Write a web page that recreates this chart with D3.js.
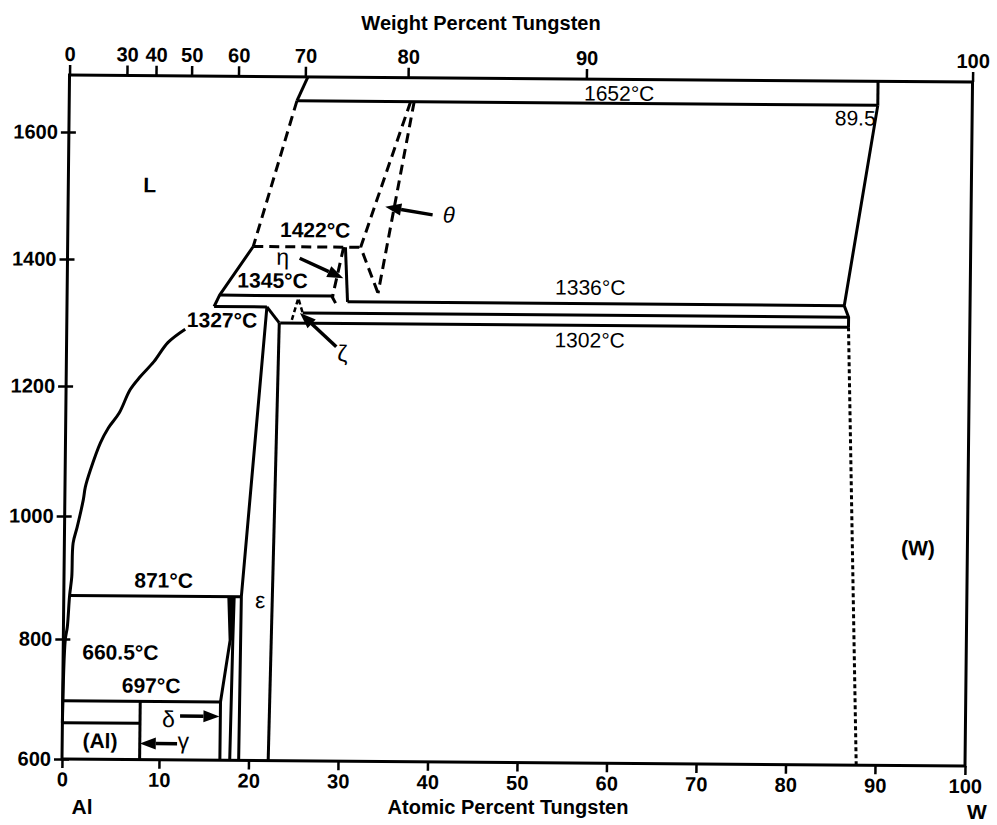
<!DOCTYPE html>
<html><head><meta charset="utf-8">
<script src="https://cdn.jsdelivr.net/npm/d3@7"></script>
<style>
body{margin:0;background:#fff;}
svg text{font-family:"Liberation Sans",Arial,Helvetica,sans-serif;fill:#000;}
</style></head><body>
<svg id="chart" width="997" height="825"></svg>
<script>
// ---------------- data (atomic % W, temperature °C) ----------------
const tempTicks = [600, 800, 1000, 1200, 1400, 1600];
const atTicks = [0, 10, 20, 30, 40, 50, 60, 70, 80, 90, 100];
const wtTicks = [0, 30, 40, 50, 60, 70, 80, 90, 100];

// solid phase boundaries
const liquidusHigh = [[25.8, 1690], [24.6, 1652]];
const iso1652 = [[24.6, 1652], [89.5, 1652]];
const wLiquidus = [[89.5, 1652], [89.5, 1690]];
const wSolidus = [[89.5, 1652], [86.0, 1336], [86.5, 1318], [86.5, 1302]];
const iso1336 = [[30.5, 1336], [86.0, 1336]];
const iso1318 = [[25.5, 1318], [86.5, 1318]];
const iso1302 = [[23.0, 1302], [86.5, 1302]];
const etaRight = [[30.2, 1422], [30.5, 1336]];
const liquidusMid = [[19.9, 1422], [16.2, 1345], [15.6, 1327]];
const iso1345 = [[16.2, 1345], [29.0, 1345]];
const iso1327 = [[15.6, 1327], [21.5, 1327]];
const epsLeft = [[21.5, 1327], [19.0, 871], [18.9, 600]];
const epsTop = [[21.5, 1327], [22.9, 1302]];
const epsRight = [[22.9, 1302], [22.2, 600]];
const liquidusLow = [[12.4, 1291], [10.5, 1270], [9.0, 1239], [7.6, 1215], [6.6, 1195], [5.5, 1159],
  [4.4, 1136], [3.6, 1113], [2.6, 1071], [2.1, 1045], [1.9, 1025], [1.3, 982], [0.9, 956],
  [0.8, 901], [0.6, 871], [0.4, 820], [0.2, 798], [0.0, 660.5]];
const iso871 = [[0.6, 871], [19.0, 871]];
const deltaLeft = [[17.6, 871], [17.8, 800], [16.8, 697], [16.8, 600]];
const deltaRight = [[18.2, 871], [18.1, 800], [17.9, 600]];
const iso697 = [[0, 697], [16.8, 697]];
const iso660 = [[0, 660.5], [8.0, 660.5]];
const gammaLine = [[8.0, 697], [8.0, 600]];

// dashed (uncertain) boundaries
const liquidusDashed = [[24.6, 1652], [19.9, 1422]];
const iso1422 = [[19.9, 1422], [31.9, 1422]];
const etaLeft = [[30.0, 1422], [28.8, 1343], [29.4, 1328]];
const thetaLeft = [[37.3, 1652], [31.9, 1422], [33.9, 1350]];
const thetaRight = [[37.7, 1652], [33.9, 1350]];
const zetaCaret = [[24.3, 1307], [25.0, 1341], [25.5, 1318]];

// dotted (W) solvus
const wSolvus = [[86.5, 1302], [87.9, 600]];

// labels
const boldLabels = [
  ["L", 8.4, 1518], ["1422°C", 26.8, 1449], ["1345°C", 22.1, 1369], ["1327°C", 16.5, 1306],
  ["871°C", 10.3, 897], ["660.5°C", 5.9, 779], ["697°C", 9.1, 724], ["(Al)", 3.9, 631],
  ["(W)", 94.5, 959]
];
const plainLabels = [
  ["1652°C", 60.6, 1668], ["89.5", 87.0, 1632], ["1336°C", 57.6, 1362], ["1302°C", 57.6, 1279]
];
const greekLabels = [
  ["η", 23.2, 1406], ["ζ", 30.0, 1255], ["ε", 21.1, 866], ["δ", 11.0, 668], ["γ", 12.7, 632]
];
const italicLabels = [["θ", 41.7, 1474]];
// arrows: [tail at%, tail °C, tip at%, tip °C]
const arrows = [
  [39.9, 1474, 34.6, 1486], [25.1, 1404, 30.0, 1373], [29.3, 1265, 25.2, 1318],
  [12.0, 627, 8.0, 627], [12.3, 673, 16.7, 673]
];

// -------------- helpers --------------
const wtToAt = w => { const a = w / 183.84, b = (100 - w) / 26.98; return 100 * a / (a + b); };

// -------------- scales --------------
const x = d3.scaleLinear().domain([0, 10, 90, 100]).range([62, 159, 875, 965]);
const y = d3.scaleLinear().domain([600, 800, 1000, 1200, 1400, 1600, 1690])
  .range([759, 639, 516, 386, 259, 132, 75]);
const xw = d3.scaleLinear().domain(wtTicks).range(wtTicks.map(w => x(wtToAt(w))));

const svg = d3.select("#chart");
const kx = 0.011, ky = 0.0078;
const g = svg.append("g")
  .attr("transform", `matrix(1,${ky},${-kx},1,${kx * 759},${-ky * 62})`);

const line = d3.line().x(d => x(d[0])).y(d => y(d[1]));

// frame
g.append("rect").attr("x", x(0)).attr("y", y(1690))
  .attr("width", x(100) - x(0)).attr("height", y(600) - y(1690))
  .attr("fill", "none").attr("stroke", "#000").attr("stroke-width", 3);

// axes
function styleAxis(sel, size) {
  sel.select(".domain").remove();
  sel.selectAll(".tick line").attr("stroke", "#000").attr("stroke-width", 2.5);
  sel.selectAll(".tick text").attr("font-size", size).attr("font-weight", "bold")
    .attr("font-family", "Liberation Sans, Arial, sans-serif").attr("fill", "#000");
}
const ax = g.append("g").attr("transform", `translate(${x(0)},0)`)
  .call(d3.axisLeft(y).tickValues(tempTicks).tickFormat(d3.format("d")).tickSize(8).tickPadding(3));
styleAxis(ax, 20);
ax.selectAll(".tick line").attr("x1", 7);

const bx = g.append("g").attr("transform", `translate(0,${y(600)})`)
  .call(d3.axisBottom(x).tickValues(atTicks).tickFormat(d3.format("d")).tickSize(9).tickPadding(4));
styleAxis(bx, 20);

const tx = g.append("g").attr("transform", `translate(0,${y(1690)})`)
  .call(d3.axisTop(xw).tickValues(wtTicks).tickFormat(d3.format("d")).tickSize(10).tickPadding(4));
styleAxis(tx, 20);

// delta phase dark band (871-800 °C)
const deltaBand = deltaLeft.slice(0, 2).concat(deltaRight.slice(0, 2).reverse());
g.append("path").datum(deltaBand).attr("d", d => line(d) + "Z")
  .attr("fill", "#000").attr("stroke", "none");

// solid lines
const solid = [liquidusHigh, iso1652, wLiquidus, wSolidus, iso1336, iso1318, iso1302, etaRight,
  liquidusMid, iso1345, iso1327, epsLeft, epsTop, epsRight, iso871, deltaLeft, deltaRight,
  iso697, iso660, gammaLine];
g.selectAll("path.solid").data(solid).join("path").attr("class", "solid")
  .attr("d", line).attr("fill", "none").attr("stroke", "#000").attr("stroke-width", 3)
  .attr("stroke-linejoin", "round");

g.append("path").datum(liquidusLow)
  .attr("d", d3.line().x(d => x(d[0])).y(d => y(d[1])).curve(d3.curveCatmullRom))
  .attr("fill", "none").attr("stroke", "#000").attr("stroke-width", 3);

// dashed lines
const dashed = [liquidusDashed, iso1422, etaLeft, thetaLeft, thetaRight];
g.selectAll("path.dashed").data(dashed).join("path").attr("class", "dashed")
  .attr("d", line).attr("fill", "none").attr("stroke", "#000").attr("stroke-width", 3)
  .attr("stroke-dasharray", "10,6");
g.append("path").datum(zetaCaret).attr("d", line).attr("fill", "none")
  .attr("stroke", "#000").attr("stroke-width", 2.5).attr("stroke-dasharray", "5,3");

// dotted solvus
g.append("path").datum(wSolvus).attr("d", line).attr("fill", "none")
  .attr("stroke", "#000").attr("stroke-width", 3).attr("stroke-dasharray", "4,3");

// arrows
const headLen = 16, headHalf = 6;
arrows.forEach(a => {
  const x1 = x(a[0]), y1 = y(a[1]), x2 = x(a[2]), y2 = y(a[3]);
  const dx = x2 - x1, dy = y2 - y1, L = Math.hypot(dx, dy), ux = dx / L, uy = dy / L;
  const bxp = x2 - ux * headLen, byp = y2 - uy * headLen;
  g.append("line").attr("x1", x1).attr("y1", y1).attr("x2", bxp).attr("y2", byp)
    .attr("stroke", "#000").attr("stroke-width", 3.5);
  g.append("polygon").attr("points",
    `${x2},${y2} ${bxp - uy * headHalf},${byp + ux * headHalf} ${bxp + uy * headHalf},${byp - ux * headHalf}`)
    .attr("fill", "#000");
});

// labels
function addLabels(arr, weight, style, size) {
  g.selectAll(null).data(arr).join("text")
    .attr("x", d => x(d[1])).attr("y", d => y(d[2]))
    .attr("text-anchor", "middle").attr("dominant-baseline", "central")
    .attr("font-size", size).attr("font-weight", weight).attr("font-style", style)
    .text(d => d[0]);
}
addLabels(boldLabels, "bold", "normal", 21);
addLabels(plainLabels, "normal", "normal", 21);
addLabels(greekLabels, "normal", "normal", 23);
addLabels(italicLabels, "normal", "italic", 22);

// titles and end labels (outside the plot group)
svg.append("text").attr("x", 481).attr("y", 23).attr("text-anchor", "middle")
  .attr("dominant-baseline", "central").attr("font-size", 20).attr("font-weight", "bold")
  .text("Weight Percent Tungsten");
svg.append("text").attr("x", 508).attr("y", 807).attr("text-anchor", "middle")
  .attr("dominant-baseline", "central").attr("font-size", 20).attr("font-weight", "bold")
  .text("Atomic Percent Tungsten");
svg.append("text").attr("x", 82).attr("y", 806).attr("text-anchor", "middle")
  .attr("dominant-baseline", "central").attr("font-size", 21).attr("font-weight", "bold").text("Al");
svg.append("text").attr("x", 977).attr("y", 811).attr("text-anchor", "middle")
  .attr("dominant-baseline", "central").attr("font-size", 21).attr("font-weight", "bold").text("W");
</script>
</body></html>
